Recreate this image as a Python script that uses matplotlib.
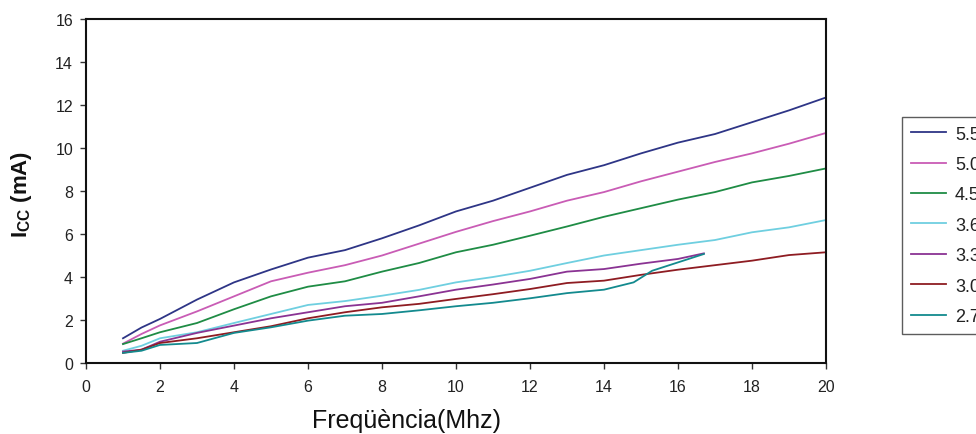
import numpy as np
import matplotlib
matplotlib.use("Agg")
import matplotlib.pyplot as plt

plt.rcParams["font.family"] = ["Liberation Sans", "DejaVu Sans"]
plt.rcParams["mathtext.fontset"] = "custom"
plt.rcParams["mathtext.rm"] = "Liberation Sans"
plt.rcParams["mathtext.bf"] = "Liberation Sans:bold"

# frequency points (MHz)
freq = [1, 1.5, 2, 3, 4, 5, 6, 7, 8, 9, 10, 11, 12, 13, 14, 15, 16, 17, 18, 19, 20]
freq_short_33 = [1, 1.5, 2, 3, 4, 5, 6, 7, 8, 9, 10, 11, 12, 13, 14, 15, 16, 16.7]
freq_short_27 = [1, 1.5, 2, 3, 4, 5, 6, 7, 8, 9, 10, 11, 12, 13, 14, 14.8, 15.3, 16, 16.7]

icc_55 = [1.15, 1.65, 2.05, 2.95, 3.75, 4.35, 4.9, 5.25, 5.8, 6.4, 7.05, 7.55, 8.15,
          8.75, 9.2, 9.75, 10.25, 10.65, 11.2, 11.75, 12.35]
icc_50 = [0.9, 1.35, 1.75, 2.4, 3.1, 3.8, 4.2, 4.55, 5.0, 5.55, 6.1, 6.6, 7.05,
          7.55, 7.95, 8.45, 8.9, 9.35, 9.75, 10.2, 10.7]
icc_45 = [0.88, 1.15, 1.43, 1.86, 2.5, 3.1, 3.55, 3.8, 4.25, 4.65, 5.15, 5.5, 5.92,
          6.35, 6.8, 7.2, 7.6, 7.95, 8.4, 8.7, 9.05]
icc_36 = [0.57, 0.8, 1.15, 1.43, 1.86, 2.28, 2.7, 2.88, 3.13, 3.4, 3.75, 4.0, 4.29,
          4.65, 5.0, 5.25, 5.5, 5.72, 6.08, 6.31, 6.65]
icc_33 = [0.53, 0.62, 0.99, 1.4, 1.74, 2.08, 2.36, 2.64, 2.8, 3.1, 3.41, 3.65, 3.91,
          4.25, 4.37, 4.62, 4.84, 5.1]
icc_30 = [0.47, 0.62, 0.93, 1.15, 1.43, 1.71, 2.08, 2.36, 2.59, 2.75, 2.98, 3.2, 3.44,
          3.72, 3.83, 4.1, 4.34, 4.55, 4.76, 5.02, 5.15]
icc_27 = [0.47, 0.57, 0.84, 0.93, 1.4, 1.66, 1.97, 2.2, 2.28, 2.45, 2.64, 2.8, 3.01,
          3.25, 3.41, 3.75, 4.29, 4.68, 5.07]

series = [
    ("5.5", freq, icc_55, "#2e3586"),
    ("5.0", freq, icc_50, "#c95cb5"),
    ("4.5", freq, icc_45, "#1f8c45"),
    ("3.6", freq, icc_36, "#6fcfe0"),
    ("3.3", freq_short_33, icc_33, "#8a3393"),
    ("3.0", freq, icc_30, "#8e1c22"),
    ("2.7", freq_short_27, icc_27, "#138a8e"),
]

fig = plt.figure(figsize=(9.76, 4.35), dpi=100)
ax = fig.add_axes([86 / 976, 1 - 364 / 435, 740 / 976, 344 / 435])

for label, x, y, color in series:
    ax.plot(x, y, color=color, lw=1.3, label=label)

ax.set_xlim(0, 20)
ax.set_ylim(0, 16)
ax.set_xticks(np.arange(0, 21, 2))
ax.set_yticks(np.arange(0, 17, 2))
ax.tick_params(direction="out", length=4.3, width=1, labelsize=11.5, color="#333333",
               labelcolor="#222222")
ax.tick_params(axis="x", pad=7)
ax.tick_params(axis="y", pad=5)
for s in ax.spines.values():
    s.set_linewidth(1.5)
    s.set_color("#111111")

fig.text(407 / 976, 1 - 421 / 435, "Freqüència(Mhz)", fontsize=18,
         ha="center", va="center", color="#111111")
fig.text(21.7 / 976, 1 - 194 / 435, r"$\mathbf{I_{CC}}$ (mA)", fontsize=16,
         fontweight="bold", rotation=90, ha="center", va="center", color="#111111")

leg = fig.legend(loc="upper left", bbox_to_anchor=(901.7 / 976, 1 - 117.7 / 435),
                 borderaxespad=0, fontsize=13, frameon=True, fancybox=False,
                 handlelength=1.93, handletextpad=0.52, labelspacing=0.74,
                 borderpad=0.5)
leg.get_frame().set_edgecolor("#333333")
leg.get_frame().set_linewidth(1.0)
for t in leg.get_texts():
    t.set_color("#222222")

fig.savefig("out.png", dpi=100)
